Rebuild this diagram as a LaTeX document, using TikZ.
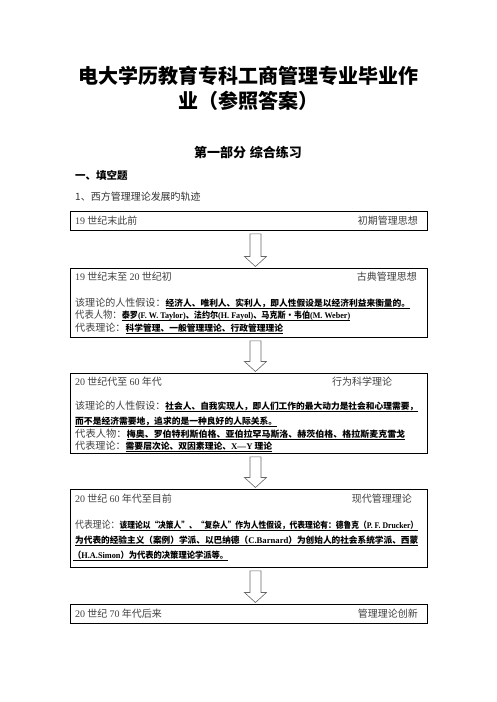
\documentclass[tikz,border=0pt]{standalone}
\usepackage{fontspec}
\usepackage{graphicx}
\setmainfont{Noto Sans CJK SC}
\newfontfamily\tnr{Liberation Serif}
\usetikzlibrary{calc}
\newcommand\lat[1]{{\tnr #1}}
\newcommand\fitw[2]{\resizebox{#1}{\height}{#2}}
\newcommand\bsz{\fontsize{8.7}{10}\selectfont}
\newcommand\bu[1]{{\bfseries\bsz\color{black}\setbox0\hbox{#1}\rlap{\rule[-2.4pt]{\wd0}{0.75pt}}\box0}}
\newcommand\blockarr[2]{%
  \draw[barrow] let \p1=($(#1.south)+(6.5,3)$), \p2=($(#2.north)+(6.5,-1.5)$) in
    (\x1-5.5pt,\y1) -- (\x1+5.5pt,\y1) -- (\x1+5.5pt,\y2+10pt) -- (\x1+11pt,\y2+10pt)
    -- (\x1,\y2) -- (\x1-11pt,\y2+10pt) -- (\x1-5.5pt,\y2+10pt) -- cycle;}
\tikzset{
  box/.style={draw=black, line width=0.9pt, inner sep=0pt, anchor=north west, minimum width=357pt},
  txt/.style={inner sep=0pt, anchor=base west, text=black!75, font=\fontsize{10}{12}\selectfont},
  rtxt/.style={txt, anchor=base east},
  titletxt/.style={inner sep=0pt, anchor=base, text=black, font=\fontsize{20}{24}\selectfont\bfseries},
  headtxt/.style={inner sep=0pt, anchor=base, text=black, font=\fontsize{13}{15}\selectfont\bfseries},
  barrow/.style={draw=black!60, line width=0.6pt, fill=white},
}
\begin{document}
\begin{tikzpicture}[x=1pt,y=-1pt]
\useasboundingbox[fill=white] (0,0) rectangle (496,702);
% titles
\node[titletxt] (ti1) at (248,83.6) {电大学历教育专科工商管理专业毕业作};
\node[titletxt] (ti2) at (248,108.6) {业（参照答案）};
\node[headtxt] (part) at (248,157) {第一部分\hspace{4pt}综合练习};
\node[txt, text=black, font=\fontsize{10.5}{12}\selectfont\bfseries] (sec) at (75,179) {一、填空题};
\node[txt, text=black!80] (q1) at (75,200) {1、西方管理理论发展旳轨迹};
% boxes
\node[box, minimum height=19pt] (b1) at (70,211) {};
\node[box, minimum height=69pt] (b2) at (70,268) {};
\node[box, minimum height=80pt] (b3) at (70,373) {};
\node[box, minimum height=78pt] (b4) at (70,489) {};
\node[box, minimum height=19pt] (b5) at (70,604) {};
% arrows
\blockarr{b1}{b2}
\blockarr{b2}{b3}
\blockarr{b3}{b4}
\blockarr{b4}{b5}
% box 1
\node[txt] (b1h) at (75,224.5) {\lat{19} 世纪末此前};
\node[rtxt] (b1r) at (418,224.5) {初期管理思想};
% box 2
\node[txt] (b2h) at (75,280) {\lat{19} 世纪末至 \lat{20} 世纪初};
\node[rtxt] (b2r) at (417,280) {古典管理思想};
\node[txt] (b2l1) at (75,306) {\fitw{335pt}{该理论的人性假设：\bu{经济人、唯利人、实利人，即人性假设是以经济利益来衡量的。}}};
\node[txt] (b2l2) at (75,318.5) {\fitw{275pt}{代表人物：\bu{泰罗\lat{(F. W. Taylor)}、法约尔\lat{(H. Fayol)}、马克斯·韦伯\lat{(M. Weber)}}}};
\node[txt] (b2l3) at (75,331) {\fitw{208pt}{代表理论：\bu{科学管理、一般管理理论、行政管理理论}}};
% box 3
\node[txt] (b3h) at (75,385) {\lat{20} 世纪代至 \lat{60} 年代};
\node[txt] (b3r) at (332,385) {行为科学理论};
\node[txt] (b3l1) at (75,409) {\fitw{343pt}{该理论的人性假设：\bu{社会人、自我实现人，即人们工作的最大动力是社会和心理需要，}}};
\node[txt] (b3l2) at (75,424) {\fitw{202pt}{\bu{而不是经济需要地，追求的是一种良好的人际关系。}}};
\node[txt] (b3l3) at (75,437) {\fitw{330pt}{代表人物：\bu{梅奥、罗伯特利斯伯格、亚伯拉罕马斯洛、赫茨伯格、格拉斯麦克雷戈}}};
\node[txt] (b3l4) at (75,449.5) {\fitw{197pt}{代表理论：\bu{需要层次论、双因素理论、\lat{X—Y} 理论}}};
% box 4
\node[txt] (b4h) at (75,502) {\lat{20} 世纪 \lat{60} 年代至目前};
\node[rtxt] (b4r) at (412,502) {现代管理理论};
\node[txt] (b4l1) at (75,528) {\fitw{343pt}{代表理论：\bu{该理论以“决策人”、“复杂人”作为人性假设，代表理论有：德鲁克（\lat{P. F. Drucker}）}}};
\node[txt] (b4l2) at (75,543.5) {\fitw{343pt}{\bu{为代表的经验主义（案例）学派、以巴纳德（\lat{C.Barnard}）为创始人的社会系统学派、西蒙}}};
\node[txt] (b4l3) at (73,558.5) {\fitw{155pt}{\bu{（\lat{H.A.Simon}）为代表的决策理论学派等。}}};
% box 5
\node[txt] (b5h) at (75,617.5) {\lat{20} 世纪 \lat{70} 年代后来};
\node[rtxt] (b5r) at (418,617.5) {管理理论创新};
\end{tikzpicture}
\end{document}
